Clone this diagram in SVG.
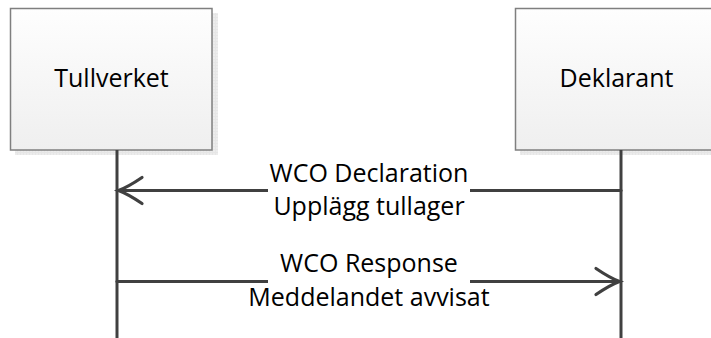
<svg xmlns="http://www.w3.org/2000/svg" width="711" height="338" viewBox="0 0 711 338">
<style>
.box{stroke:#7f7f7f;stroke-width:1.5;fill:url(#g)}
.shadow{fill:url(#grid)}
.lbl{font-family:"Open Sans","Liberation Sans",sans-serif;font-size:25px;fill:#000;text-anchor:middle}
.life{stroke:#404040;stroke-width:3;fill:none}
.msg{stroke:#404040;stroke-width:3.2;fill:none;stroke-linecap:round}
.bg{fill:#fff}
</style>
<defs>
<linearGradient id="g" x1="0" y1="0" x2="0" y2="1">
<stop offset="0" stop-color="#fefefe"/>
<stop offset="1" stop-color="#efefef"/>
</linearGradient>
<pattern id="grid" width="3" height="3" patternUnits="userSpaceOnUse">
<rect width="3" height="3" fill="#e6e6e6"/>
<rect width="2" height="2" fill="#ececec"/>
</pattern>
</defs>
<g id="tullverket">
<rect class="shadow" x="15" y="13" width="203" height="142"/>
<rect class="box" x="10.5" y="8.5" width="201.5" height="141.5"/>
<text class="lbl" x="111.5" y="87">Tullverket</text>
</g>
<g id="deklarant">
<rect class="shadow" x="520" y="13" width="203" height="142"/>
<rect class="box" x="515.5" y="8.5" width="201.5" height="141.5"/>
<text class="lbl" x="616.5" y="87">Deklarant</text>
</g>
<g id="lifelines">
<line class="life" x1="117" y1="150" x2="117" y2="338"/>
<line class="life" x1="621" y1="150" x2="621" y2="338"/>
</g>
<g id="connectors">
<g id="msg1">
<line class="msg" x1="621" y1="190.5" x2="119" y2="190.5"/>
<path class="msg" d="M142,177.5 Q128,187 118.5,190.5 Q128,194 142,203.5"/>
<rect class="bg" x="268" y="160" width="202" height="62"/>
<text class="lbl" x="369" y="182">WCO Declaration</text>
<text class="lbl" x="369" y="215">Upplägg tullager</text>
</g>
<g id="msg2">
<line class="msg" x1="117" y1="281.5" x2="619" y2="281.5"/>
<path class="msg" d="M596,268.5 Q610,278 619.5,281.5 Q610,285 596,294.5"/>
<rect class="bg" x="268" y="251" width="202" height="62"/>
<text class="lbl" x="369" y="272">WCO Response</text>
<text class="lbl" x="369" y="306">Meddelandet avvisat</text>
</g>
</g>
</svg>
